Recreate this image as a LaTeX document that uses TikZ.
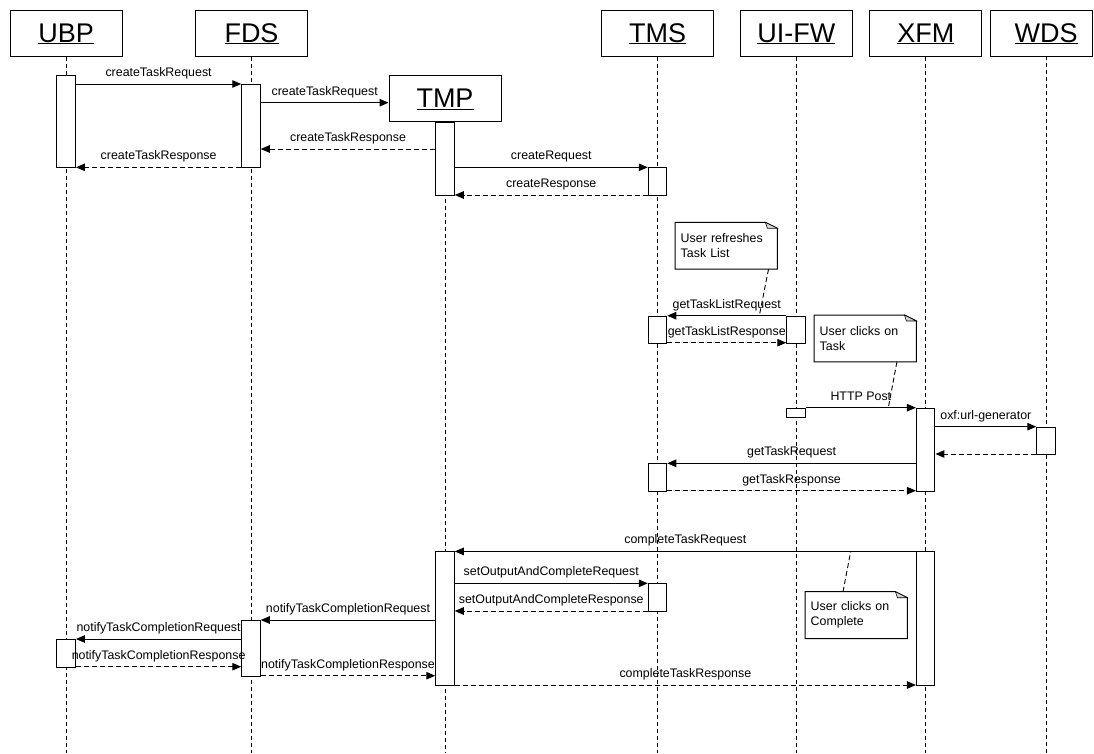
\documentclass[tikz,border=0pt]{standalone}
\usepackage{fontspec}
\setmainfont{Liberation Sans}
\usetikzlibrary{arrows.meta}

\tikzset{
  head/.style={draw, line width=1pt, fill=white, minimum width=112pt,
    minimum height=46pt, inner sep=0pt, font=\fontsize{27}{30}\selectfont,
    text height=22pt, text depth=4pt},
  life/.style={line width=0.9pt, dash pattern=on 4pt off 3pt},
  actbox/.style={draw, line width=1pt, fill=white, minimum width=18.5pt,
    inner sep=0pt, anchor=north},
  call/.style={line width=1pt, -{Triangle[length=9pt,width=7.5pt]}},
  reply/.style={call, dash pattern=on 5pt off 3pt},
  lbl/.style={font=\fontsize{12.4}{15}\selectfont, anchor=base, yshift=7.5pt,
    inner sep=0pt},
  notetext/.style={anchor=north west, minimum width=102pt, minimum height=46.5pt,
    text width=91pt, inner xsep=5.5pt, inner ysep=0pt, align=left, fill=white,
    font=\fontsize{12.4}{15}\selectfont},
  noteline/.style={line width=1pt, line join=miter},
  noteconn/.style={line width=0.9pt, dash pattern=on 5pt off 3pt},
}

% activation bar: name, x of lifeline, top, bottom
\newcommand\actv[4]{\node[actbox, minimum height={(#4-#3)*1pt}] (#1) at (#2,#3) {};}
% message: style, from node, to node, y, label
\newcommand\msg[5]{%
  \coordinate (msgy) at (0,#4);
  \draw[#1] (#2 |- msgy) -- (#3 |- msgy) node[lbl, midway] {#5};}
% note with a folded corner: name, x, y of top-left corner, text
\newcommand\sdnote[4]{%
  \node[notetext] (#1) at (#2,#3) {#4};
  \fill[white] ([xshift=-12pt]#1.north east) -- (#1.north east) -- ([yshift=-6pt]#1.north east) -- cycle;
  \draw[noteline] (#1.north west) -- ([xshift=-12pt]#1.north east)
    -- ([yshift=-6pt]#1.north east) -- (#1.south east) -- (#1.south west) -- cycle;
  \filldraw[fill=gray!35, line width=0.6pt] ([xshift=-12pt]#1.north east)
    -- ([xshift=-10pt,yshift=-6pt]#1.north east) -- ([yshift=-6pt]#1.north east) -- cycle;}

\begin{document}
\begin{tikzpicture}[x=1pt, y=-1pt]
\fill[white] (0,0) rectangle (1094,753);
\useasboundingbox (0,0) rectangle (1094,753);
\coordinate (bot) at (0,753);

% participants
\node[head] (ubp)  at (66.2,33)   {\underline{UBP}};
\node[head] (fds)  at (251.5,33)  {\underline{FDS}};
\node[head] (tmp)  at (445,98.4)  {\underline{TMP}};
\node[head] (tms)  at (657.5,33)  {\underline{TMS}};
\node[head] (uifw) at (796.3,33)  {\underline{UI-FW}};
\node[head] (xfm)  at (925.8,33)  {\underline{XFM}};
\node[head, minimum width=102pt] (wds) at (1041,33) {\hspace*{10pt}\underline{WDS}};
\coordinate (wdsl) at (1046,56);

% lifelines
\draw[life] (ubp.south)  -- (ubp.south |- bot);
\draw[life] (fds.south)  -- (fds.south |- bot);
\draw[life] (tmp.south)  -- (tmp.south |- bot);
\draw[life] (tms.south)  -- (tms.south |- bot);
\draw[life] (uifw.south) -- (uifw.south |- bot);
\draw[life] (xfm.south)  -- (xfm.south |- bot);
\draw[life] (wdsl) -- (wdsl |- bot);

% activation bars
\actv{ubp1}{66.2}{75.3}{167.3}
\actv{fds1}{251}{84}{167.3}
\actv{tmp1}{445}{121.7}{195}
\actv{tms1}{657.5}{167.3}{195}
\actv{tms2}{657.5}{315.7}{342.7}
\actv{uifw1}{796}{315.7}{342.7}
\actv{uifw2}{796}{407.7}{416.7}
\actv{xfm1}{925.7}{407.7}{490.7}
\actv{wds1}{1046}{426.7}{454}
\actv{tms3}{657.5}{463.3}{490.7}
\actv{xfm2}{925.7}{551.4}{685}
\actv{tmp2}{445}{551.4}{685}
\actv{tms4}{657.5}{583.3}{611}
\actv{fds2}{251}{620}{675.7}
\actv{ubp2}{66.2}{639}{666.7}

% messages
\msg{call}{ubp1.east}{fds1.west}{84}{createTaskRequest}
\msg{call}{fds1.east}{tmp.west}{102.7}{createTaskRequest}
\msg{reply}{tmp1.west}{fds1.east}{149}{createTaskResponse}
\msg{reply}{fds1.west}{ubp1.east}{167.3}{createTaskResponse}
\msg{call}{tmp1.east}{tms1.west}{167.3}{createRequest}
\msg{reply}{tms1.west}{tmp1.east}{195}{createResponse}
\msg{call}{uifw1.west}{tms2.east}{315.7}{getTaskListRequest}
\msg{reply}{tms2.east}{uifw1.west}{342.7}{getTaskListResponse}
\msg{call}{uifw2.east}{xfm1.west}{407.7}{HTTP Post}
\msg{call}{xfm1.east}{wds1.west}{426.7}{oxf:url-generator}
\msg{reply}{wds1.west}{xfm1.east}{454}{}
\msg{call}{xfm1.west}{tms3.east}{463.3}{getTaskRequest}
\msg{reply}{tms3.east}{xfm1.west}{490.7}{getTaskResponse}
\msg{call}{xfm2.west}{tmp2.east}{551.4}{completeTaskRequest}
\msg{call}{tmp2.east}{tms4.west}{583.3}{setOutputAndCompleteRequest}
\msg{reply}{tms4.west}{tmp2.east}{611}{setOutputAndCompleteResponse}
\msg{call}{tmp2.west}{fds2.east}{620}{notifyTaskCompletionRequest}
\msg{call}{fds2.west}{ubp2.east}{639}{notifyTaskCompletionRequest}
\msg{reply}{ubp2.east}{fds2.west}{666.7}{notifyTaskCompletionResponse}
\msg{reply}{fds2.east}{tmp2.west}{675.7}{notifyTaskCompletionResponse}
\msg{reply}{tmp2.east}{xfm2.west}{685}{completeTaskResponse}

% notes and their anchors on the messages
\sdnote{n1}{675}{222.3}{User refreshes\\Task List}
\sdnote{n2}{814}{315}{User clicks on\\Task}
\sdnote{n3}{805}{591.7}{User clicks on\\Complete}
\coordinate (k1) at (759.3,315.7);
\coordinate (k2) at (888.3,407.7);
\coordinate (k3) at (850.7,551.4);
\draw[noteconn] ([xshift=42.3pt]n1.south) -- (k1);
\draw[noteconn] ([xshift=31.7pt]n2.south) -- (k2);
\draw[noteconn] ([xshift=-13.2pt]n3.north) -- (k3);
\end{tikzpicture}
\end{document}
